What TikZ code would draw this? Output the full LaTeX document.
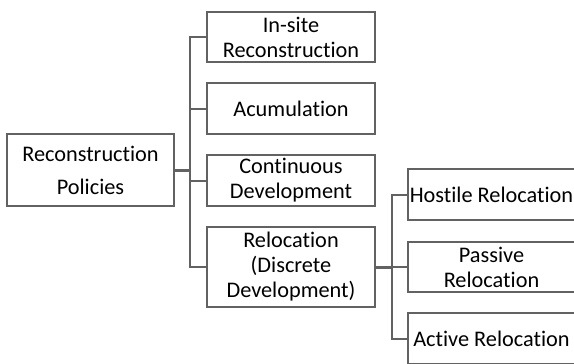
\documentclass[tikz,border=0pt]{standalone}
\usepackage{fontspec}
\setmainfont{Carlito}[Ligatures={NoCommon}]
\definecolor{linegray}{RGB}{98,98,98}
\tikzset{
  box/.style={draw=linegray, line width=1.8pt, fill=white, inner sep=0pt,
    align=center, font=\fontsize{22.3}{25}\selectfont, text=black},
  conn/.style={draw=linegray, line width=2pt},
  thickconn/.style={draw=linegray, line width=3pt}
}
\begin{document}
\begin{tikzpicture}[x=1pt,y=-1pt]
\useasboundingbox (0,0) rectangle (574,364);
\clip (0,0) rectangle (574,364);
\node[box, minimum width=167pt, minimum height=72pt, font=\fontsize{22.3}{33}\selectfont] (root) at (90.5,170) {Reconstruction\\Policies};
\node[box, minimum width=168pt, minimum height=50pt] (insite) at (291,37) {In-site\\Reconstruction};
\node[box, minimum width=168pt, minimum height=51pt] (acum) at (291,108.5) {Acumulation};
\node[box, minimum width=168pt, minimum height=51pt] (cont) at (291,180.5) {Continuous\\Development};
\node[box, minimum width=168pt, minimum height=80pt] (reloc) at (291,267) {Relocation\\(Discrete\\Development)};
\node[box, minimum width=167pt, minimum height=51pt] (host) at (491.5,194.5) {Hostile Relocation};
\node[box, minimum width=167pt, minimum height=50pt] (pass) at (491.5,267) {Passive\\Relocation};
\node[box, minimum width=167pt, minimum height=51pt] (act) at (491.5,338.5) {Active Relocation};
\coordinate (j1) at (190,0);
\coordinate (j2) at (392,0);
% level 1 connectors
\draw[thickconn] (root.east |- 0,170) -- (j1 |- 0,170);
\draw[conn] (insite.west) -| (j1 |- reloc.west) -- (reloc.west);
\draw[conn] (acum.west) -- (acum.west -| j1);
\draw[conn] (cont.west) -- (cont.west -| j1);
% level 2 connectors
\draw[thickconn] (reloc.east) -- (reloc.east -| j2);
\draw[conn] (host.west) -| (j2 |- act.west) -- (act.west);
\draw[conn] (pass.west) -- (pass.west -| j2);
\end{tikzpicture}
\end{document}
